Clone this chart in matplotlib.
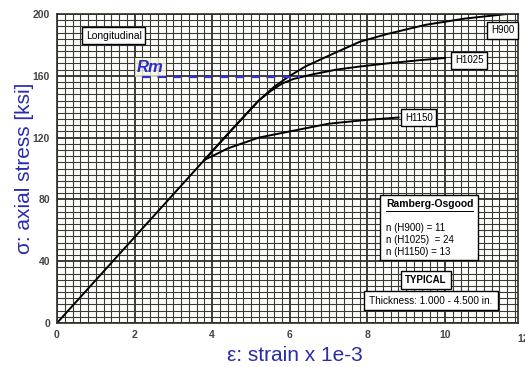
import numpy as np
import matplotlib.pyplot as plt
from matplotlib.ticker import MultipleLocator
from matplotlib.patches import Rectangle

plt.rcParams['font.family'] = ['Liberation Sans', 'DejaVu Sans']

# 应力-应变曲线数据 (strain x 1e-3, stress ksi)
elastic_x = [0.0, 3.8]
elastic_y = [0.0, 105.6]

h900_x = [3.8, 4.5, 5.2, 5.6, 6.0, 6.4, 7.0, 7.8, 8.5, 9.5, 10.5, 11.6]
h900_y = [105.6, 125, 144, 153, 160, 166, 173, 182, 187, 193, 197, 200]

h1025_x = [3.8, 4.5, 5.2, 5.5, 5.8, 6.1, 6.6, 7.2, 7.8, 8.5, 9.3, 10.0]
h1025_y = [105.6, 125, 144, 150, 155, 158, 161, 164, 166, 168, 170, 171.5]

h1150_x = [3.8, 4.0, 4.4, 5.2, 6.0, 7.0, 8.0, 8.8]
h1150_y = [105.6, 108, 113, 120, 124, 129, 131.5, 133]

rm_value = 159
rm_x = [2.19, 6.25]

x_ticks = [0, 2, 4, 6, 8, 10]
y_ticks = [0, 40, 80, 120, 160, 200]

fig = plt.figure(figsize=(5.25, 3.67), dpi=100)
ax = fig.add_axes([57 / 525, 44 / 367, 461 / 525, 309 / 367])

ax.set_xlim(0, 11.88)
ax.set_ylim(0, 200)
ax.set_xticks(x_ticks)
ax.set_yticks(y_ticks)
ax.xaxis.set_minor_locator(MultipleLocator(0.2))
ax.yaxis.set_minor_locator(MultipleLocator(4))
ax.grid(which='major', color='#2e2e26', linewidth=1.3)
ax.grid(which='minor', color='#3a3a30', linewidth=0.8)
ax.set_axisbelow(True)
ax.tick_params(which='both', length=0, pad=5)
for lab in ax.get_xticklabels() + ax.get_yticklabels():
    lab.set_fontsize(7.5)
    lab.set_fontweight('bold')
    lab.set_color('#444444')
ax.text(12, -7, '12', fontsize=7.5, fontweight='bold', color='#444444',
        ha='center', va='top', clip_on=False)
for s in ax.spines.values():
    s.set_color('#2e2e26')
    s.set_linewidth(1.2)

# 曲线
ax.plot(elastic_x, elastic_y, color='black', lw=1.4)
ax.plot(h900_x, h900_y, color='black', lw=1.4)
ax.plot(h1025_x, h1025_y, color='black', lw=1.4)
ax.plot(h1150_x, h1150_y, color='black', lw=1.4)

# Rm 线
ax.text(2.4, 165.5, 'Rm', color='#2a2acc', fontsize=12, fontweight='bold',
        style='italic', ha='center', va='center', zorder=2,
        bbox=dict(facecolor='#f6f8e0', edgecolor='none', pad=1.5, alpha=0.8))
ax.plot(rm_x, [rm_value, rm_value], color='#3333cc', lw=1.6, ls=(0, (4, 3)), zorder=4)

box = dict(facecolor='white', edgecolor='black', linewidth=1.0, pad=2.5)
ax.text(1.46, 186, 'Longitudinal', fontsize=7.5, ha='center', va='center', bbox=box)
ax.text(11.48, 189.5, 'H900', fontsize=7, ha='center', va='center', bbox=box)
ax.text(10.62, 170, 'H1025', fontsize=7, ha='center', va='center', bbox=box)
ax.text(9.32, 132.7, 'H1150', fontsize=7, ha='center', va='center', bbox=box)

# Ramberg-Osgood 框
ax.add_patch(Rectangle((8.32, 40.8), 2.53, 42, facecolor='white',
                       edgecolor='black', linewidth=1.0, zorder=5))
ax.text(8.48, 77, 'Ramberg-Osgood', fontsize=7.5, fontweight='bold',
        ha='left', va='center', zorder=6)
ax.plot([8.48, 10.72], [72.8, 72.8], color='black', lw=0.7, zorder=6)
for yy, txt in zip([61.5, 53.7, 46], ['n (H900) = 11', 'n (H1025)  = 24', 'n (H1150) = 13']):
    ax.text(8.48, yy, txt, fontsize=7, ha='left', va='center', zorder=6)

ax.text(9.5, 28, 'TYPICAL', fontsize=7, fontweight='bold', ha='center', va='center',
        bbox=dict(facecolor='white', edgecolor='black', linewidth=1.0, pad=3))
ax.text(9.64, 14.5, 'Thickness: 1.000 - 4.500 in.', fontsize=7.2, ha='center', va='center',
        bbox=dict(facecolor='white', edgecolor='black', linewidth=1.0, pad=3.5))

ax.set_ylabel('σ: axial stress [ksi]', color='#2a2aae', fontsize=15, labelpad=-1)
ax.set_xlabel('ε: strain x 1e-3', color='#2a2aae', fontsize=15)
ax.xaxis.set_label_coords(0.5 + 7 / 461, -0.075)

fig.savefig('out.png', dpi=100)
